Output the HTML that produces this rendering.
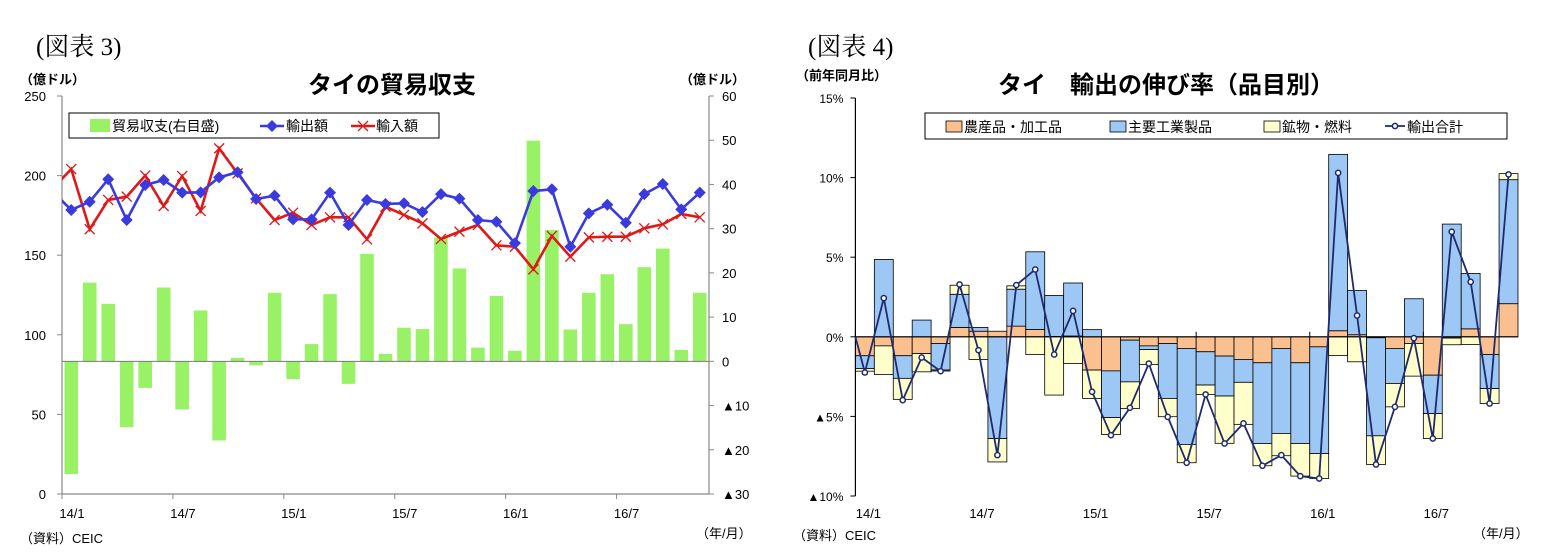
<!DOCTYPE html>
<html><head><meta charset="utf-8">
<style>
html,body{margin:0;padding:0;background:#fff;}
svg{display:block;}
text{font-family:"Liberation Sans","Noto Sans CJK JP",sans-serif;fill:#000;}
.serif{font-family:"Liberation Serif","Noto Serif CJK SC",serif;}
</style></head>
<body>
<svg id="root" width="1568" height="554" viewBox="0 0 1568 554" xmlns="http://www.w3.org/2000/svg">
<defs>
<clipPath id="clip1"><rect x="62" y="90" width="647" height="410"/></clipPath>
</defs>
<text class="serif" x="36" y="55" font-size="25">(図表 3)</text>
<text class="serif" x="808" y="55" font-size="25">(図表 4)</text>
<text x="392" y="93" font-size="24" font-weight="bold" text-anchor="middle">タイの貿易収支</text>
<text x="1166" y="93" font-size="24" font-weight="bold" text-anchor="middle">タイ　輸出の伸び率（品目別）</text>
<text x="20" y="84" font-size="13" font-weight="bold">（億ドル）</text>
<text x="680" y="84" font-size="13" font-weight="bold">（億ドル）</text>
<text x="796" y="80" font-size="13" font-weight="bold">（前年同月比）</text>
<text x="20" y="543" font-size="13">（資料）CEIC</text>
<text x="793" y="540" font-size="13">（資料）CEIC</text>
<text x="696" y="538" font-size="13">（年/月）</text>
<text x="1473" y="538" font-size="13">（年/月）</text>
<g id="c1"></g>
<g id="c2"></g>
</svg>
<script>
// ---- Chart 1 data ----
const months = ["14/1","14/2","14/3","14/4","14/5","14/6","14/7","14/8","14/9","14/10","14/11","14/12","15/1","15/2","15/3","15/4","15/5","15/6","15/7","15/8","15/9","15/10","15/11","15/12","16/1","16/2","16/3","16/4","16/5","16/6","16/7","16/8","16/9","16/10","16/11"];
const xTickLabels = ["14/1","14/7","15/1","15/7","16/1","16/7"];
const leftTicks = [0,50,100,150,200,250];
const rightTicks = [60,50,40,30,20,10,0,-10,-20,-30];
const exportsVal = [178.4,183.6,197.7,172.1,194.1,197.2,189.3,189.5,198.9,202.1,185.3,187.4,172.5,172.5,189.3,169.0,184.7,182.2,182.6,177.1,188.4,185.5,172.1,171.0,157.5,190.3,191.4,155.3,176.3,181.7,170.4,188.4,194.7,178.8,189.3];
const importsVal = [204.1,166.3,184.7,186.8,200.0,180.9,199.7,177.8,217.1,201.4,185.7,172.1,176.7,169.0,173.8,173.8,160.0,180.5,175.3,170.0,160.2,164.8,169.0,156.2,155.3,141.1,162.1,149.1,161.2,161.6,161.6,166.9,169.4,175.9,173.8];
const balanceVal = [-25.5,17.8,13.0,-14.9,-6.0,16.7,-10.9,11.5,-17.9,0.8,-0.9,15.5,-4.0,3.9,15.2,-5.1,24.3,1.7,7.6,7.3,28.0,21.0,3.1,14.8,2.4,49.9,29.7,7.2,15.5,19.7,8.4,21.3,25.5,2.6,15.5];
const exportsPrev = 190;
const importsPrev = 192;

// ---- Chart 2 data ----
const growthTicks = [15,10,5,0,-5,-10];
const agri = [-1.19,-0.57,-1.19,-1.05,-0.42,0.59,0.35,0.35,0.67,0.46,0.02,0.05,-2.09,-2.14,-0.21,-0.57,-0.42,-0.73,-0.94,-1.21,-1.42,-1.63,-0.73,-1.63,-0.63,0.38,0.13,-0.06,-0.73,-0.42,-2.41,-0.08,0.5,-1.11,2.08];
const manuf = [-0.8,4.86,-1.42,1.05,-1.67,2.08,0.24,-6.39,2.32,4.88,2.58,3.33,0.45,-2.93,-2.62,-0.23,-3.45,-6.03,-2.09,-2.51,-1.44,-5.07,-5.34,-5.07,-6.70,11.08,2.78,-6.16,-2.2,2.39,-2.41,7.08,3.48,-2.14,7.79];
const mineral = [-0.17,-1.8,-1.32,-1.15,-0.06,0.57,-1.42,-1.47,0.21,-1.11,-3.66,-1.68,-1.78,-1.07,-1.68,-0.94,-1.15,-1.15,-0.59,-2.97,-2.64,-1.40,-1.40,-2.05,-1.57,-1.17,-1.57,-1.80,-1.47,-2.05,-1.57,-0.42,-0.48,-0.94,0.38];
const totalGrowth = [-2.24,2.43,-3.98,-1.3,-2.16,3.29,-0.84,-7.43,3.25,4.23,-1.11,1.63,-3.45,-6.18,-4.46,-1.68,-5.03,-7.91,-3.62,-6.7,-5.44,-8.1,-7.43,-8.75,-8.9,10.3,1.34,-8.02,-4.4,-0.08,-6.39,6.6,3.45,-4.19,10.2];

const NS="http://www.w3.org/2000/svg";
function mk(tag, attrs, parent){const e=document.createElementNS(NS,tag);for(const k in attrs)e.setAttribute(k,attrs[k]);parent.appendChild(e);return e;}

// ===== Chart 1 =====
const c1=document.getElementById('c1');
const X0=62, X1=709, Ytop=96, Ybot=494;
const bw1=(X1-X0)/months.length;
const xc1=i=>X0+(i+0.5)*bw1;
const yL=v=>Ybot-(v/250)*(Ybot-Ytop);
const yR=v=>Ytop+(60-v)/90*(Ybot-Ytop);
// bars
balanceVal.forEach((v,i)=>{
  const y0=yR(0), y1=yR(v);
  const r=mk('rect',{x:xc1(i)-6.8,y:Math.min(y0,y1),width:13.6,height:Math.abs(y1-y0),fill:'#99F266'},c1);
  
  
});
// zero line for right axis
const zl=mk('line',{x1:X0,x2:X1,y1:yR(0),y2:yR(0),stroke:'#777','stroke-width':1},c1);


// axes
const la=mk('line',{x1:X0,x2:X0,y1:Ytop,y2:Ybot,stroke:'#888','stroke-width':1.2},c1);


const ra=mk('line',{x1:X1,x2:X1,y1:Ytop,y2:Ybot,stroke:'#888','stroke-width':1.2},c1);


const xa=mk('line',{x1:X0,x2:X1,y1:Ybot,y2:Ybot,stroke:'#888','stroke-width':1.2},c1);


leftTicks.forEach(v=>{
  mk('line',{x1:X0-5,x2:X0,y1:yL(v),y2:yL(v),stroke:'#888'},c1);
  const t=mk('text',{x:X0-16,y:yL(v)+5,'font-size':13,'text-anchor':'end'},c1);
  t.textContent=v;
  
  
});
rightTicks.forEach(v=>{
  mk('line',{x1:X1,x2:X1+5,y1:yR(v),y2:yR(v),stroke:'#888'},c1);
  const t=mk('text',{x:X1+13,y:yR(v)+5,'font-size':13},c1);
  t.textContent=v<0?'▲'+(-v):v;
  
  
});
xTickLabels.forEach(lab=>{
  const i=months.indexOf(lab);
  const x=X0+i*bw1;
  mk('line',{x1:x,x2:x,y1:Ybot,y2:Ybot+5,stroke:'#888'},c1);
  const t=mk('text',{x:x+10,y:Ybot+24,'font-size':13,'text-anchor':'middle'},c1);
  t.textContent=lab;
  
  
});
// lines
function linePath(arr,prev){let d='M'+(xc1(-1))+','+yL(prev);arr.forEach((v,i)=>{d+=' L'+xc1(i)+','+yL(v);});return d;}
const lg=mk('g',{'clip-path':'url(#clip1)'},c1);
const imp=mk('path',{d:linePath(importsVal,importsPrev),fill:'none',stroke:'#E01818','stroke-width':2.6},lg);


importsVal.forEach((v,i)=>{
  const x=xc1(i),y=yL(v);
  const m=mk('path',{d:`M${x-5},${y-5}L${x+5},${y+5}M${x-5},${y+5}L${x+5},${y-5}`,stroke:'#E01818','stroke-width':1.3},lg);
  
  
});
const exp=mk('path',{d:linePath(exportsVal,exportsPrev),fill:'none',stroke:'#3A3ADF','stroke-width':2.6},lg);


exportsVal.forEach((v,i)=>{
  const x=xc1(i),y=yL(v);
  const m=mk('path',{d:`M${x},${y-6}L${x+6},${y}L${x},${y+6}L${x-6},${y}Z`,fill:'#3A3ADF'},lg);
  
  
});
// legend 1
const lg1=mk('g',{},c1);


mk('rect',{x:69,y:113,width:370,height:25,fill:'#fff',stroke:'#000','stroke-width':1},lg1);
mk('rect',{x:90,y:119,width:20,height:13,fill:'#99F266'},lg1);
let t=mk('text',{x:112,y:131,'font-size':14},lg1);t.textContent='貿易収支(右目盛)';
mk('line',{x1:260,x2:284,y1:126,y2:126,stroke:'#3A3ADF','stroke-width':2.5},lg1);
mk('path',{d:'M272,120L278,126L272,132L266,126Z',fill:'#3A3ADF'},lg1);
t=mk('text',{x:286,y:131,'font-size':14},lg1);t.textContent='輸出額';
mk('line',{x1:351,x2:375,y1:126,y2:126,stroke:'#E01818','stroke-width':2.5},lg1);
mk('path',{d:'M358,121L368,131M358,131L368,121',stroke:'#E01818','stroke-width':1.3},lg1);
t=mk('text',{x:376,y:131,'font-size':14},lg1);t.textContent='輸入額';

// ===== Chart 2 =====
const c2=document.getElementById('c2');
const A0=855.4, A1=1518, Gtop=98, Gbot=496;
const bw2=(A1-A0)/months.length;
const xc2=i=>A0+(i+0.5)*bw2;
const yG=v=>Gtop+(15-v)/25*(Gbot-Gtop);
const series=[[agri,'#FAC090','agri'],[manuf,'#9DC8F5','manuf'],[mineral,'#FFFFCC','mineral']];
months.forEach((m,i)=>{
  let pos=0,neg=0;
  series.forEach(([arr,col,nm])=>{
    const v=arr[i];let a,b;
    if(v>=0){a=pos;b=pos+v;pos=b;}else{a=neg;b=neg+v;neg=b;}
    const y1=yG(a),y2=yG(b);
    const r=mk('rect',{x:A0+i*bw2,y:Math.min(y1,y2),width:bw2,height:Math.abs(y2-y1),fill:col,stroke:'#000','stroke-width':0.8},c2);
    
    
  });
});
const a2=mk('line',{x1:A0,x2:A0,y1:Gtop,y2:Gbot,stroke:'#000','stroke-width':1.2},c2);


const z2=mk('line',{x1:A0,x2:A1,y1:yG(0),y2:yG(0),stroke:'#000','stroke-width':1.2},c2);


growthTicks.forEach(v=>{
  mk('line',{x1:A0-5,x2:A0,y1:yG(v),y2:yG(v),stroke:'#000'},c2);
  const tt=mk('text',{x:A0-12,y:yG(v)+5,'font-size':12,'text-anchor':'end'},c2);
  tt.textContent=v<0?'▲'+(-v)+'%':v+'%';
  
  
});
xTickLabels.forEach(lab=>{
  const i=months.indexOf(lab);
  const x=A0+i*bw2;
  mk('line',{x1:x,x2:x,y1:yG(0)-5,y2:yG(0),stroke:'#000'},c2);
  const tt=mk('text',{x:x+13,y:Gbot+22,'font-size':13,'text-anchor':'middle'},c2);
  tt.textContent=lab;
  
  
});
let d2='M'+A0+','+yG(0);
totalGrowth.forEach((v,i)=>{d2+=' L'+xc2(i)+','+yG(v);});
const tl=mk('path',{d:d2,fill:'none',stroke:'#1F2A6E','stroke-width':1.8},c2);


totalGrowth.forEach((v,i)=>{
  const c=mk('circle',{cx:xc2(i),cy:yG(v),r:2.6,fill:'#fff',stroke:'#1F2A6E','stroke-width':1.5},c2);
  
  
});
// legend 2
const lg2=mk('g',{},c2);


mk('rect',{x:925,y:113,width:582,height:26,fill:'#fff',stroke:'#000','stroke-width':1},lg2);
mk('rect',{x:946,y:121,width:16,height:11,fill:'#FAC090',stroke:'#000','stroke-width':0.8},lg2);
t=mk('text',{x:964,y:132,'font-size':14},lg2);t.textContent='農産品・加工品';
mk('rect',{x:1110,y:121,width:16,height:11,fill:'#9DC8F5',stroke:'#000','stroke-width':0.8},lg2);
t=mk('text',{x:1128,y:132,'font-size':14},lg2);t.textContent='主要工業製品';
mk('rect',{x:1264,y:121,width:16,height:11,fill:'#FFFFCC',stroke:'#000','stroke-width':0.8},lg2);
t=mk('text',{x:1282,y:132,'font-size':14},lg2);t.textContent='鉱物・燃料';
mk('line',{x1:1385,x2:1405,y1:126,y2:126,stroke:'#1F2A6E','stroke-width':1.8},lg2);
mk('circle',{cx:1395,cy:126,r:2.6,fill:'#fff',stroke:'#1F2A6E','stroke-width':1.5},lg2);
t=mk('text',{x:1407,y:132,'font-size':14},lg2);t.textContent='輸出合計';
</script>
</body></html>
